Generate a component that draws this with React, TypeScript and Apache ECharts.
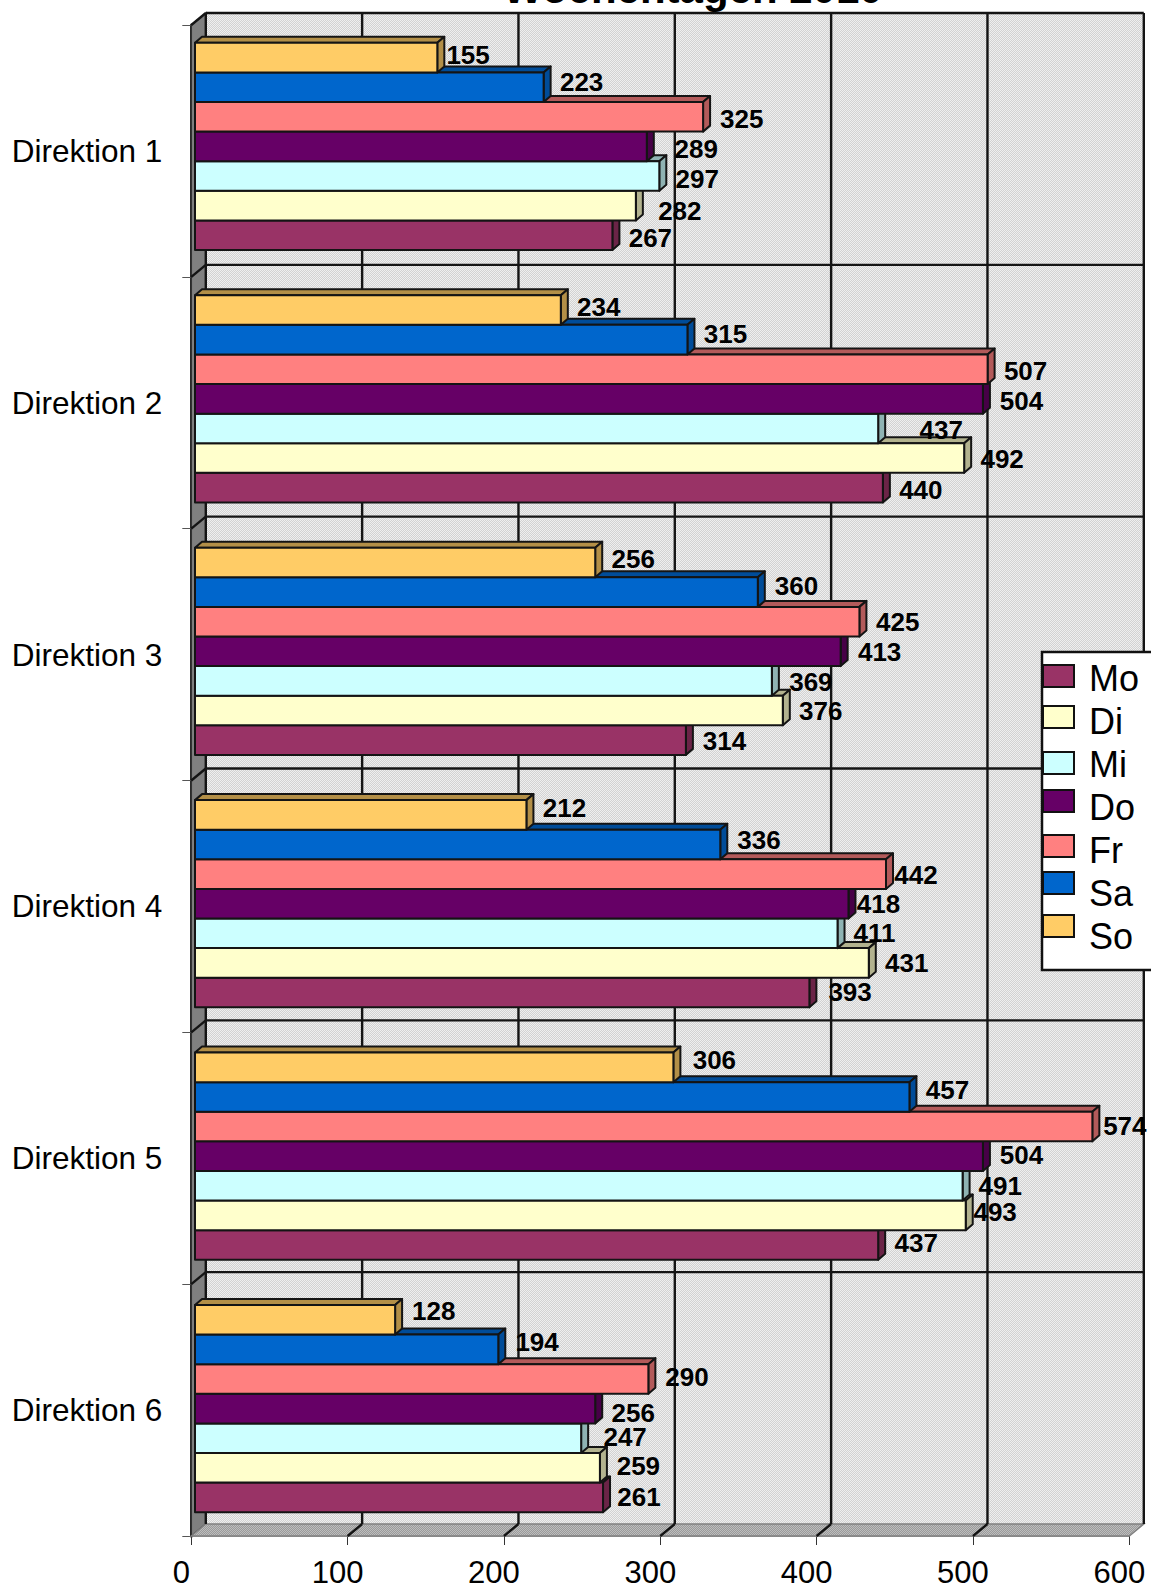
import React, { useEffect, useRef } from "react";
import * as echarts from "echarts";

const categories = ["Direktion 1", "Direktion 2", "Direktion 3", "Direktion 4", "Direktion 5", "Direktion 6"];
const days = ["Mo", "Di", "Mi", "Do", "Fr", "Sa", "So"];
const titleText = "Wochentagen 2010";

const mo = [267, 440, 314, 393, 437, 261];
const di = [282, 492, 376, 431, 493, 259];
const mi = [297, 437, 369, 411, 491, 247];
const dn = [289, 504, 413, 418, 504, 256];
const fr = [325, 507, 425, 442, 574, 290];
const sa = [223, 315, 360, 336, 457, 194];
const so = [155, 234, 256, 212, 306, 128];
const seriesValues = [mo, di, mi, dn, fr, sa, so];

const xTicks = [0, 100, 200, 300, 400, 500, 600];

const faceColors = ["#993366", "#FFFFCC", "#CCFFFF", "#660066", "#FF8080", "#0066CC", "#FFCC66"];
const shadeColors = ["#6B2447", "#B3B38F", "#8FB3B3", "#470047", "#B35A5A", "#004C99", "#B38F47"];

// label placement relative to the end of each bar (same order as the days)
const labelDx = [
  [38, 38, 38.6, 40.7, 38, 36],
  [44, 38, 38, 38, 29.4, 38.5],
  [38, 63, 39, 37, 37.6, 44],
  [49.4, 38.5, 39, 30, 38.5, 38],
  [38.7, 38, 38.4, 30, 32.5, 38.7],
  [38, 38, 38.7, 38.7, 38, 38.8],
  [30.8, 38, 38, 38, 41, 38.6],
];
const labelDy = [
  [3.5, 3, 2.5, 2, 1.4, 3],
  [5.7, 2, 2.7, 2, 0, 2],
  [3, 2.4, 3, 2.4, 2.8, 2.3],
  [3, 3.6, 2, 2.6, 2, 7.6],
  [2.3, 3, 2.3, 2.8, 2.3, 2],
  [-4.5, -5, -4.6, -2, -3.6, -3.6],
  [-2, -2, -1.3, -5, -4.4, -5],
];
// legend swatches sit on their own irregular rhythm in the reference
const swatchTops = [665, 706, 752, 790, 835, 872, 915];

const FONT = '"Liberation Sans", Arial, sans-serif';
const BACK_DX = 14.5;
const BACK_DY = -12;
const BAR_DX = 3.7;
const BAR_DY = -5;
const BAR_DEPTH_X = 7;
const BAR_DEPTH_Y = -6;
const BAR_SHIFT_BASE = 0.5;
const BAR_SHIFT_PER_CATEGORY = 0.6;
const LINE = "#141414";

function checker(a: string, b: string) {
  const c = document.createElement("canvas");
  c.width = 2;
  c.height = 2;
  const g = c.getContext("2d")!;
  g.fillStyle = a;
  g.fillRect(0, 0, 2, 2);
  g.fillStyle = b;
  g.fillRect(0, 0, 1, 1);
  g.fillRect(1, 1, 1, 1);
  return { image: c, repeat: "repeat" };
}

export default function App() {
  const ref = useRef<HTMLDivElement>(null);
  useEffect(() => {
    const chart = echarts.init(ref.current!, null, { renderer: "svg" });
    const wallFill = checker("#d2d2d2", "#efefef");
    const floorFill = checker("#9a9a9a", "#bdbdbd");
    const slot = 29.6;

    const renderFrame = (_p: any, api: any) => {
      const band = api.size([0, 1])[1];
      const topCenter = api.coord([0, 0]);
      const x0 = topCenter[0];
      const yTop = topCenter[1] - band / 2;
      const yBottom = yTop + band * categories.length;
      const xEnd = api.coord([xTicks[xTicks.length - 1], 0])[0];
      const line = (x1: number, y1: number, x2: number, y2: number, w = 2.4, c = LINE) => ({
        type: "line",
        shape: { x1, y1, x2, y2 },
        style: { stroke: c, lineWidth: w },
      });
      const children: any[] = [
        {
          type: "rect",
          shape: { x: x0 + BACK_DX, y: yTop + BACK_DY, width: xEnd - x0, height: yBottom - yTop },
          style: { fill: wallFill },
        },
        {
          type: "polygon",
          shape: {
            points: [
              [x0, yTop],
              [x0 + BACK_DX, yTop + BACK_DY],
              [x0 + BACK_DX, yBottom + BACK_DY],
              [x0, yBottom],
            ],
          },
          style: { fill: "#808080", stroke: "#333", lineWidth: 1.5 },
        },
        {
          type: "polygon",
          shape: {
            points: [
              [x0, yBottom],
              [x0 + BACK_DX, yBottom + BACK_DY],
              [xEnd + BACK_DX, yBottom + BACK_DY],
              [xEnd, yBottom],
            ],
          },
          style: { fill: floorFill, stroke: "#808080", lineWidth: 1.5 },
        },
      ];
      categories.forEach((_c, k) => {
        const y = yTop + band * k;
        children.push(line(x0, y, x0 + BACK_DX, y + BACK_DY));
        children.push(line(x0 + BACK_DX, y + BACK_DY, xEnd + BACK_DX, y + BACK_DY));
      });
      xTicks.forEach((v) => {
        const x = api.coord([v, 0])[0];
        if (v > 0 && v < xTicks[xTicks.length - 1]) {
          children.push(line(x, yBottom, x + BACK_DX, yBottom + BACK_DY));
        }
        children.push(line(x + BACK_DX, yTop + BACK_DY, x + BACK_DX, yBottom + BACK_DY));
      });
      return { type: "group", children };
    };

    const barSeries = days.map((name, d) => ({
      type: "custom",
      name,
      z: 3 + d,
      itemStyle: { color: faceColors[d] },
      data: seriesValues[d].map((v, k) => [v, k]),
      encode: { x: 0, y: 1 },
      renderItem: (_p: any, api: any) => {
        const k = api.value(1);
        const end = api.coord([api.value(0), k]);
        const start = api.coord([0, k]);
        const xa = start[0] + BAR_DX;
        const xb = end[0] + BAR_DX;
        const yt =
          end[1] + BAR_DY + BAR_SHIFT_BASE + BAR_SHIFT_PER_CATEGORY * k + (days.length - 1 - d - 3.5) * slot;
        const yb = yt + slot;
        const stroke = { stroke: LINE, lineWidth: 2, lineJoin: "round" };
        return {
          type: "group",
          children: [
            {
              type: "polygon",
              shape: { points: [[xa, yt], [xa + BAR_DEPTH_X, yt + BAR_DEPTH_Y], [xb + BAR_DEPTH_X, yt + BAR_DEPTH_Y], [xb, yt]] },
              style: { fill: shadeColors[d], ...stroke },
            },
            {
              type: "polygon",
              shape: { points: [[xb, yt], [xb + BAR_DEPTH_X, yt + BAR_DEPTH_Y], [xb + BAR_DEPTH_X, yb + BAR_DEPTH_Y], [xb, yb]] },
              style: { fill: shadeColors[d], ...stroke },
            },
            {
              type: "rect",
              shape: { x: xa, y: yt, width: xb - xa, height: slot },
              style: { fill: faceColors[d], ...stroke },
            },
          ],
        };
      },
    }));

    const labelRows: number[][] = [];
    seriesValues.forEach((vals, d) => vals.forEach((v, k) => labelRows.push([v, k, d])));

    const option: any = {
      animation: false,
      backgroundColor: "#ffffff",
      title: {
        text: titleText,
        left: 503,
        top: -33,
        padding: 0,
        textStyle: { fontFamily: FONT, fontSize: 42, fontWeight: "bold", color: "#000" },
      },
      grid: { left: 191.3, top: 25, width: 938, height: 1511 },
      xAxis: {
        type: "value",
        min: 0,
        max: 600,
        interval: 100,
        splitLine: { show: false },
        axisLine: { show: true, lineStyle: { color: "#808080", width: 1.5 } },
        axisTick: { show: true, length: 9, lineStyle: { color: "#333", width: 1 } },
        axisLabel: { fontFamily: FONT, fontSize: 31, color: "#000", margin: 21, padding: [0, 20, 0, 0] },
      },
      yAxis: {
        type: "category",
        inverse: true,
        data: categories,
        axisLine: { show: true, lineStyle: { color: "#222", width: 3 } },
        axisTick: { show: true, length: 9, lineStyle: { color: "#555", width: 1 } },
        axisLabel: { fontFamily: FONT, fontSize: 31.5, color: "#000", margin: 29 },
        splitLine: { show: false },
      },
      legend: {
        data: days.map((name) => ({ name, itemStyle: { opacity: 0 } })),
        orient: "vertical",
        left: 1042,
        top: 652,
        padding: [8, 70, 16, 1],
        itemGap: 7,
        itemWidth: 31,
        itemHeight: 22,
        icon: "rect",
        selectedMode: false,
        backgroundColor: "#fff",
        borderColor: "#111",
        borderWidth: 2.5,
        textStyle: { fontFamily: FONT, fontSize: 36, color: "#000", padding: [0, 0, 0, 10] },
      },
      graphic: days.map((_name, d) => ({
        type: "rect",
        z: 100,
        silent: true,
        shape: { x: 1043, y: swatchTops[d], width: 31, height: 22 },
        style: { fill: faceColors[d], stroke: "#111", lineWidth: 2 },
      })),
      series: [
        {
          type: "custom",
          name: "frame",
          z: 1,
          silent: true,
          data: [[0, 0]],
          encode: { x: 0, y: 1 },
          renderItem: renderFrame,
        },
        ...barSeries,
        {
          type: "custom",
          name: "labels",
          z: 20,
          silent: true,
          data: labelRows,
          encode: { x: 0, y: 1 },
          renderItem: (_p: any, api: any) => {
            const k = api.value(1);
            const d = api.value(2);
            const end = api.coord([api.value(0), k]);
            const cy = end[1] + BAR_DY + (days.length - 1 - d - 3.5) * slot + slot / 2;
            return {
              type: "text",
              style: {
                text: String(api.value(0)),
                x: end[0] + BAR_DX + labelDx[d][k],
                y: cy + labelDy[d][k],
                align: "center",
                verticalAlign: "middle",
                fontFamily: FONT,
                fontSize: 26,
                fontWeight: "bold",
                fill: "#000",
              },
            };
          },
        },
      ],
    };
    chart.setOption(option);
    return () => chart.dispose();
  }, []);
  return <div ref={ref} style={{ position: "absolute", left: 0, top: 0, width: 1151, height: 1589 }} />;
}
